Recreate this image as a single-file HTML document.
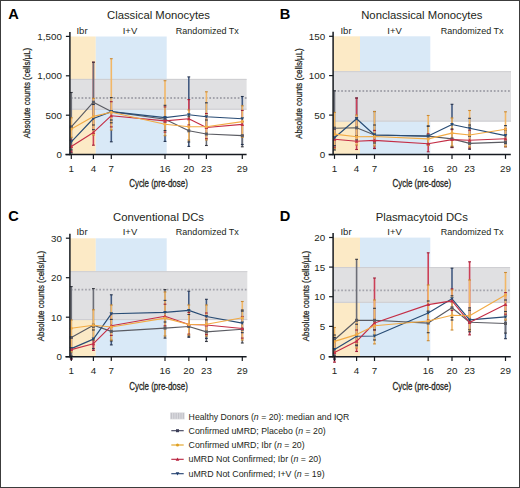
<!DOCTYPE html>
<html><head><meta charset="utf-8"><style>
html,body{margin:0;padding:0;width:520px;height:488px;overflow:hidden;background:#fff;font-family:"Liberation Sans", sans-serif;}
</style></head><body>
<svg width="520" height="488" viewBox="0 0 520 488" style="position:absolute;left:0;top:0;font-family:'Liberation Sans', sans-serif">
<rect x="0" y="0" width="520" height="488" fill="#fff"/>
<rect x="69.9" y="36.5" width="25.90" height="118.10" fill="#fceac6"/>
<rect x="95.8" y="36.5" width="70.90" height="118.10" fill="#d9e9f7"/>
<rect x="69.9" y="78.9" width="176.70" height="30.80" fill="#e0e0e2"/>
<line x1="69.9" y1="109.2" x2="246.6" y2="109.2" stroke="#cdcdd1" stroke-width="1"/>
<line x1="69.9" y1="79.4" x2="246.6" y2="79.4" stroke="#cdcdd1" stroke-width="1"/>
<line x1="70.9" y1="98.0" x2="246.6" y2="98.0" stroke="#a4a4ac" stroke-width="1.8" stroke-dasharray="1.7 1.85"/>
<line x1="111.30" y1="120.00" x2="111.30" y2="141.80" stroke="#435b82" stroke-width="1.6"/>
<line x1="165.00" y1="122.00" x2="165.00" y2="141.40" stroke="#435b82" stroke-width="1.6"/>
<line x1="188.80" y1="76.90" x2="188.80" y2="146.40" stroke="#435b82" stroke-width="1.6"/>
<line x1="242.30" y1="96.50" x2="242.30" y2="144.50" stroke="#435b82" stroke-width="1.6"/>
<line x1="71.30" y1="127.80" x2="71.30" y2="153.00" stroke="#435b82" stroke-width="1.6"/>
<line x1="93.40" y1="104.50" x2="93.40" y2="129.70" stroke="#435b82" stroke-width="1.6"/>
<line x1="206.40" y1="102.80" x2="206.40" y2="128.00" stroke="#435b82" stroke-width="1.6"/>
<line x1="71.30" y1="140.00" x2="71.30" y2="152.00" stroke="#cc4058" stroke-width="1.6"/>
<line x1="93.40" y1="62.20" x2="93.40" y2="145.20" stroke="#cc4058" stroke-width="1.6"/>
<line x1="188.80" y1="99.60" x2="188.80" y2="125.00" stroke="#cc4058" stroke-width="1.6"/>
<line x1="111.30" y1="101.70" x2="111.30" y2="126.90" stroke="#cc4058" stroke-width="1.6"/>
<line x1="165.00" y1="106.90" x2="165.00" y2="132.10" stroke="#cc4058" stroke-width="1.6"/>
<line x1="206.40" y1="113.50" x2="206.40" y2="138.70" stroke="#cc4058" stroke-width="1.6"/>
<line x1="242.30" y1="110.40" x2="242.30" y2="135.60" stroke="#cc4058" stroke-width="1.6"/>
<line x1="71.30" y1="92.50" x2="71.30" y2="150.00" stroke="#6c6e77" stroke-width="1.6"/>
<line x1="93.40" y1="62.20" x2="93.40" y2="125.00" stroke="#6c6e77" stroke-width="1.6"/>
<line x1="206.40" y1="120.00" x2="206.40" y2="145.50" stroke="#6c6e77" stroke-width="1.6"/>
<line x1="111.30" y1="97.60" x2="111.30" y2="122.80" stroke="#6c6e77" stroke-width="1.6"/>
<line x1="165.00" y1="105.30" x2="165.00" y2="130.50" stroke="#6c6e77" stroke-width="1.6"/>
<line x1="188.80" y1="116.80" x2="188.80" y2="142.00" stroke="#6c6e77" stroke-width="1.6"/>
<line x1="242.30" y1="121.60" x2="242.30" y2="146.80" stroke="#6c6e77" stroke-width="1.6"/>
<line x1="71.30" y1="117.80" x2="71.30" y2="137.30" stroke="#f2b767" stroke-width="1.6"/>
<line x1="93.40" y1="98.40" x2="93.40" y2="135.00" stroke="#f2b767" stroke-width="1.6"/>
<line x1="111.30" y1="58.70" x2="111.30" y2="130.00" stroke="#f2b767" stroke-width="1.6"/>
<line x1="165.00" y1="80.70" x2="165.00" y2="135.70" stroke="#f2b767" stroke-width="1.6"/>
<line x1="188.80" y1="110.00" x2="188.80" y2="140.00" stroke="#f2b767" stroke-width="1.6"/>
<line x1="206.40" y1="91.80" x2="206.40" y2="140.00" stroke="#f2b767" stroke-width="1.6"/>
<line x1="242.30" y1="105.80" x2="242.30" y2="137.30" stroke="#f2b767" stroke-width="1.6"/>
<line x1="109.90" y1="120.0" x2="112.70" y2="120.0" stroke="#24324c" stroke-width="1.1"/>
<line x1="109.90" y1="141.8" x2="112.70" y2="141.8" stroke="#24324c" stroke-width="1.1"/>
<line x1="163.60" y1="122.0" x2="166.40" y2="122.0" stroke="#24324c" stroke-width="1.1"/>
<line x1="163.60" y1="141.4" x2="166.40" y2="141.4" stroke="#24324c" stroke-width="1.1"/>
<line x1="187.40" y1="76.9" x2="190.20" y2="76.9" stroke="#24324c" stroke-width="1.1"/>
<line x1="187.40" y1="146.4" x2="190.20" y2="146.4" stroke="#24324c" stroke-width="1.1"/>
<line x1="240.90" y1="96.5" x2="243.70" y2="96.5" stroke="#24324c" stroke-width="1.1"/>
<line x1="240.90" y1="144.5" x2="243.70" y2="144.5" stroke="#24324c" stroke-width="1.1"/>
<line x1="69.90" y1="127.8" x2="72.70" y2="127.8" stroke="#24324c" stroke-width="1.1"/>
<line x1="69.90" y1="153.0" x2="72.70" y2="153.0" stroke="#24324c" stroke-width="1.1"/>
<line x1="92.00" y1="104.5" x2="94.80" y2="104.5" stroke="#24324c" stroke-width="1.1"/>
<line x1="92.00" y1="129.7" x2="94.80" y2="129.7" stroke="#24324c" stroke-width="1.1"/>
<line x1="205.00" y1="102.8" x2="207.80" y2="102.8" stroke="#24324c" stroke-width="1.1"/>
<line x1="205.00" y1="128.0" x2="207.80" y2="128.0" stroke="#24324c" stroke-width="1.1"/>
<line x1="69.90" y1="140.0" x2="72.70" y2="140.0" stroke="#9e2038" stroke-width="1.1"/>
<line x1="69.90" y1="152.0" x2="72.70" y2="152.0" stroke="#9e2038" stroke-width="1.1"/>
<line x1="92.00" y1="62.2" x2="94.80" y2="62.2" stroke="#9e2038" stroke-width="1.1"/>
<line x1="92.00" y1="145.2" x2="94.80" y2="145.2" stroke="#9e2038" stroke-width="1.1"/>
<line x1="187.40" y1="99.6" x2="190.20" y2="99.6" stroke="#9e2038" stroke-width="1.1"/>
<line x1="187.40" y1="125.0" x2="190.20" y2="125.0" stroke="#9e2038" stroke-width="1.1"/>
<line x1="109.90" y1="101.7" x2="112.70" y2="101.7" stroke="#9e2038" stroke-width="1.1"/>
<line x1="109.90" y1="126.9" x2="112.70" y2="126.9" stroke="#9e2038" stroke-width="1.1"/>
<line x1="163.60" y1="106.9" x2="166.40" y2="106.9" stroke="#9e2038" stroke-width="1.1"/>
<line x1="163.60" y1="132.1" x2="166.40" y2="132.1" stroke="#9e2038" stroke-width="1.1"/>
<line x1="205.00" y1="113.5" x2="207.80" y2="113.5" stroke="#9e2038" stroke-width="1.1"/>
<line x1="205.00" y1="138.7" x2="207.80" y2="138.7" stroke="#9e2038" stroke-width="1.1"/>
<line x1="240.90" y1="110.4" x2="243.70" y2="110.4" stroke="#9e2038" stroke-width="1.1"/>
<line x1="240.90" y1="135.6" x2="243.70" y2="135.6" stroke="#9e2038" stroke-width="1.1"/>
<line x1="69.90" y1="92.5" x2="72.70" y2="92.5" stroke="#34363e" stroke-width="1.1"/>
<line x1="69.90" y1="150.0" x2="72.70" y2="150.0" stroke="#34363e" stroke-width="1.1"/>
<line x1="92.00" y1="62.2" x2="94.80" y2="62.2" stroke="#34363e" stroke-width="1.1"/>
<line x1="92.00" y1="125.0" x2="94.80" y2="125.0" stroke="#34363e" stroke-width="1.1"/>
<line x1="205.00" y1="120.0" x2="207.80" y2="120.0" stroke="#34363e" stroke-width="1.1"/>
<line x1="205.00" y1="145.5" x2="207.80" y2="145.5" stroke="#34363e" stroke-width="1.1"/>
<line x1="109.90" y1="97.6" x2="112.70" y2="97.6" stroke="#34363e" stroke-width="1.1"/>
<line x1="109.90" y1="122.8" x2="112.70" y2="122.8" stroke="#34363e" stroke-width="1.1"/>
<line x1="163.60" y1="105.3" x2="166.40" y2="105.3" stroke="#34363e" stroke-width="1.1"/>
<line x1="163.60" y1="130.5" x2="166.40" y2="130.5" stroke="#34363e" stroke-width="1.1"/>
<line x1="187.40" y1="116.8" x2="190.20" y2="116.8" stroke="#34363e" stroke-width="1.1"/>
<line x1="187.40" y1="142.0" x2="190.20" y2="142.0" stroke="#34363e" stroke-width="1.1"/>
<line x1="240.90" y1="121.6" x2="243.70" y2="121.6" stroke="#34363e" stroke-width="1.1"/>
<line x1="240.90" y1="146.8" x2="243.70" y2="146.8" stroke="#34363e" stroke-width="1.1"/>
<line x1="69.90" y1="117.8" x2="72.70" y2="117.8" stroke="#c98a34" stroke-width="1.1"/>
<line x1="69.90" y1="137.3" x2="72.70" y2="137.3" stroke="#c98a34" stroke-width="1.1"/>
<line x1="92.00" y1="98.4" x2="94.80" y2="98.4" stroke="#c98a34" stroke-width="1.1"/>
<line x1="92.00" y1="135.0" x2="94.80" y2="135.0" stroke="#c98a34" stroke-width="1.1"/>
<line x1="109.90" y1="58.7" x2="112.70" y2="58.7" stroke="#c98a34" stroke-width="1.1"/>
<line x1="109.90" y1="130.0" x2="112.70" y2="130.0" stroke="#c98a34" stroke-width="1.1"/>
<line x1="163.60" y1="80.7" x2="166.40" y2="80.7" stroke="#c98a34" stroke-width="1.1"/>
<line x1="163.60" y1="135.7" x2="166.40" y2="135.7" stroke="#c98a34" stroke-width="1.1"/>
<line x1="187.40" y1="110.0" x2="190.20" y2="110.0" stroke="#c98a34" stroke-width="1.1"/>
<line x1="187.40" y1="140.0" x2="190.20" y2="140.0" stroke="#c98a34" stroke-width="1.1"/>
<line x1="205.00" y1="91.8" x2="207.80" y2="91.8" stroke="#c98a34" stroke-width="1.1"/>
<line x1="205.00" y1="140.0" x2="207.80" y2="140.0" stroke="#c98a34" stroke-width="1.1"/>
<line x1="240.90" y1="105.8" x2="243.70" y2="105.8" stroke="#c98a34" stroke-width="1.1"/>
<line x1="240.90" y1="137.3" x2="243.70" y2="137.3" stroke="#c98a34" stroke-width="1.1"/>
<polyline points="71.30,126.90 93.40,102.20 111.30,111.60 165.00,119.30 188.80,130.80 206.40,134.00 242.30,135.60" fill="none" stroke="#5a5b62" stroke-width="1.15" stroke-linejoin="round"/>
<rect x="69.80" y="125.40" width="3.00" height="3.00" fill="#5a5b62"/>
<rect x="91.90" y="100.70" width="3.00" height="3.00" fill="#5a5b62"/>
<rect x="109.80" y="110.10" width="3.00" height="3.00" fill="#5a5b62"/>
<rect x="163.50" y="117.80" width="3.00" height="3.00" fill="#5a5b62"/>
<rect x="187.30" y="129.30" width="3.00" height="3.00" fill="#5a5b62"/>
<rect x="204.90" y="132.50" width="3.00" height="3.00" fill="#5a5b62"/>
<rect x="240.80" y="134.10" width="3.00" height="3.00" fill="#5a5b62"/>
<polyline points="71.30,141.80 93.40,118.50 111.30,111.60 165.00,117.60 188.80,114.70 206.40,116.80 242.30,118.70" fill="none" stroke="#284c75" stroke-width="1.15" stroke-linejoin="round"/>
<path d="M71.30,143.60 L73.10,140.30 L69.50,140.30Z" fill="#284c75"/>
<path d="M93.40,120.30 L95.20,117.00 L91.60,117.00Z" fill="#284c75"/>
<path d="M111.30,113.40 L113.10,110.10 L109.50,110.10Z" fill="#284c75"/>
<path d="M165.00,119.40 L166.80,116.10 L163.20,116.10Z" fill="#284c75"/>
<path d="M188.80,116.50 L190.60,113.20 L187.00,113.20Z" fill="#284c75"/>
<path d="M206.40,118.60 L208.20,115.30 L204.60,115.30Z" fill="#284c75"/>
<path d="M242.30,120.50 L244.10,117.20 L240.50,117.20Z" fill="#284c75"/>
<polyline points="71.30,146.40 93.40,132.40 111.30,115.70 165.00,120.90 188.80,118.80 206.40,127.50 242.30,124.40" fill="none" stroke="#c42e46" stroke-width="1.15" stroke-linejoin="round"/>
<path d="M71.30,144.60 L73.10,147.90 L69.50,147.90Z" fill="#c42e46"/>
<path d="M93.40,130.60 L95.20,133.90 L91.60,133.90Z" fill="#c42e46"/>
<path d="M111.30,113.90 L113.10,117.20 L109.50,117.20Z" fill="#c42e46"/>
<path d="M165.00,119.10 L166.80,122.40 L163.20,122.40Z" fill="#c42e46"/>
<path d="M188.80,117.00 L190.60,120.30 L187.00,120.30Z" fill="#c42e46"/>
<path d="M206.40,125.70 L208.20,129.00 L204.60,129.00Z" fill="#c42e46"/>
<path d="M242.30,122.60 L244.10,125.90 L240.50,125.90Z" fill="#c42e46"/>
<polyline points="71.30,129.00 93.40,116.40 111.30,112.30 165.00,124.20 188.80,126.70 206.40,126.70 242.30,121.60" fill="none" stroke="#f2ab45" stroke-width="1.15" stroke-linejoin="round"/>
<circle cx="71.30" cy="129.00" r="1.50" fill="#f2ab45"/>
<circle cx="93.40" cy="116.40" r="1.50" fill="#f2ab45"/>
<circle cx="111.30" cy="112.30" r="1.50" fill="#f2ab45"/>
<circle cx="165.00" cy="124.20" r="1.50" fill="#f2ab45"/>
<circle cx="188.80" cy="126.70" r="1.50" fill="#f2ab45"/>
<circle cx="206.40" cy="126.70" r="1.50" fill="#f2ab45"/>
<circle cx="242.30" cy="121.60" r="1.50" fill="#f2ab45"/>
<line x1="69.9" y1="32.0" x2="69.9" y2="155.29999999999998" stroke="#161a20" stroke-width="1.5"/>
<line x1="65.4" y1="154.6" x2="246.6" y2="154.6" stroke="#161a20" stroke-width="1.5"/>
<line x1="65.9" y1="36.4" x2="69.9" y2="36.4" stroke="#161a20" stroke-width="1.2"/>
<text x="61.900000000000006" y="39.8" font-size="9.8" text-anchor="end" font-weight="normal" fill="#231f20">1,500</text>
<line x1="65.9" y1="75.8" x2="69.9" y2="75.8" stroke="#161a20" stroke-width="1.2"/>
<text x="61.900000000000006" y="79.2" font-size="9.8" text-anchor="end" font-weight="normal" fill="#231f20">1,000</text>
<line x1="65.9" y1="115.2" x2="69.9" y2="115.2" stroke="#161a20" stroke-width="1.2"/>
<text x="61.900000000000006" y="118.60000000000001" font-size="9.8" text-anchor="end" font-weight="normal" fill="#231f20">500</text>
<line x1="65.9" y1="154.6" x2="69.9" y2="154.6" stroke="#161a20" stroke-width="1.2"/>
<text x="61.900000000000006" y="158.0" font-size="9.8" text-anchor="end" font-weight="normal" fill="#231f20">0</text>
<line x1="71.30" y1="154.6" x2="71.30" y2="158.90" stroke="#161a20" stroke-width="1.2"/>
<text x="71.3" y="172.1" font-size="9.8" text-anchor="middle" font-weight="normal" fill="#231f20">1</text>
<line x1="93.40" y1="154.6" x2="93.40" y2="158.90" stroke="#161a20" stroke-width="1.2"/>
<text x="93.4" y="172.1" font-size="9.8" text-anchor="middle" font-weight="normal" fill="#231f20">4</text>
<line x1="111.30" y1="154.6" x2="111.30" y2="158.90" stroke="#161a20" stroke-width="1.2"/>
<text x="111.3" y="172.1" font-size="9.8" text-anchor="middle" font-weight="normal" fill="#231f20">7</text>
<line x1="165.00" y1="154.6" x2="165.00" y2="158.90" stroke="#161a20" stroke-width="1.2"/>
<text x="165.0" y="172.1" font-size="9.8" text-anchor="middle" font-weight="normal" fill="#231f20">16</text>
<line x1="188.80" y1="154.6" x2="188.80" y2="158.90" stroke="#161a20" stroke-width="1.2"/>
<text x="188.8" y="172.1" font-size="9.8" text-anchor="middle" font-weight="normal" fill="#231f20">20</text>
<line x1="206.40" y1="154.6" x2="206.40" y2="158.90" stroke="#161a20" stroke-width="1.2"/>
<text x="206.4" y="172.1" font-size="9.8" text-anchor="middle" font-weight="normal" fill="#231f20">23</text>
<line x1="242.30" y1="154.6" x2="242.30" y2="158.90" stroke="#161a20" stroke-width="1.2"/>
<text x="242.3" y="172.1" font-size="9.8" text-anchor="middle" font-weight="normal" fill="#231f20">29</text>
<text x="8.2" y="18.8" font-size="14.6" text-anchor="start" font-weight="bold" fill="#000">A</text>
<text x="158.5" y="19.3" font-size="11.3" text-anchor="middle" font-weight="normal" fill="#231f20">Classical Monocytes</text>
<text x="82" y="33.6" font-size="9.5" text-anchor="middle" font-weight="normal" fill="#231f20">Ibr</text>
<text x="130" y="33.6" font-size="9.5" text-anchor="middle" font-weight="normal" fill="#231f20">I+V</text>
<text x="207.3" y="33.6" font-size="9.0" text-anchor="middle" font-weight="normal" fill="#231f20">Randomized Tx</text>
<text x="158.5" y="187.4" font-size="10.6" text-anchor="middle" font-weight="normal" fill="#231f20" textLength="58.6" lengthAdjust="spacingAndGlyphs" stroke="#231f20" stroke-width="0.3">Cycle (pre-dose)</text>
<text transform="translate(30.2,93) rotate(-90)" x="0" y="0" font-size="9.6" text-anchor="middle" fill="#231f20" textLength="90.5" lengthAdjust="spacingAndGlyphs" stroke="#231f20" stroke-width="0.25">Absolute counts (cells/µL)</text>
<rect x="333.1" y="36.3" width="26.90" height="118.30" fill="#fceac6"/>
<rect x="360.0" y="36.3" width="70.30" height="118.30" fill="#d9e9f7"/>
<rect x="333.1" y="71.2" width="177.90" height="50.40" fill="#e0e0e2"/>
<line x1="333.1" y1="121.1" x2="511.0" y2="121.1" stroke="#cdcdd1" stroke-width="1"/>
<line x1="333.1" y1="71.7" x2="511.0" y2="71.7" stroke="#cdcdd1" stroke-width="1"/>
<line x1="334.1" y1="91.0" x2="511.0" y2="91.0" stroke="#a4a4ac" stroke-width="1.8" stroke-dasharray="1.7 1.85"/>
<line x1="356.60" y1="98.00" x2="356.60" y2="140.00" stroke="#435b82" stroke-width="1.6"/>
<line x1="374.50" y1="111.50" x2="374.50" y2="148.60" stroke="#435b82" stroke-width="1.6"/>
<line x1="452.00" y1="104.30" x2="452.00" y2="147.30" stroke="#435b82" stroke-width="1.6"/>
<line x1="334.50" y1="127.70" x2="334.50" y2="145.70" stroke="#435b82" stroke-width="1.6"/>
<line x1="428.20" y1="126.10" x2="428.20" y2="144.10" stroke="#435b82" stroke-width="1.6"/>
<line x1="469.60" y1="118.30" x2="469.60" y2="136.30" stroke="#435b82" stroke-width="1.6"/>
<line x1="505.50" y1="125.60" x2="505.50" y2="143.60" stroke="#435b82" stroke-width="1.6"/>
<line x1="356.60" y1="98.00" x2="356.60" y2="149.50" stroke="#cc4058" stroke-width="1.6"/>
<line x1="334.50" y1="129.20" x2="334.50" y2="147.20" stroke="#cc4058" stroke-width="1.6"/>
<line x1="374.50" y1="130.40" x2="374.50" y2="148.40" stroke="#cc4058" stroke-width="1.6"/>
<line x1="428.20" y1="133.80" x2="428.20" y2="151.80" stroke="#cc4058" stroke-width="1.6"/>
<line x1="452.00" y1="129.60" x2="452.00" y2="147.60" stroke="#cc4058" stroke-width="1.6"/>
<line x1="469.60" y1="130.20" x2="469.60" y2="148.20" stroke="#cc4058" stroke-width="1.6"/>
<line x1="505.50" y1="128.80" x2="505.50" y2="146.80" stroke="#cc4058" stroke-width="1.6"/>
<line x1="334.50" y1="90.80" x2="334.50" y2="150.00" stroke="#6c6e77" stroke-width="1.6"/>
<line x1="469.60" y1="125.00" x2="469.60" y2="149.30" stroke="#6c6e77" stroke-width="1.6"/>
<line x1="505.50" y1="130.00" x2="505.50" y2="146.60" stroke="#6c6e77" stroke-width="1.6"/>
<line x1="356.60" y1="117.80" x2="356.60" y2="135.80" stroke="#6c6e77" stroke-width="1.6"/>
<line x1="374.50" y1="125.00" x2="374.50" y2="143.00" stroke="#6c6e77" stroke-width="1.6"/>
<line x1="428.20" y1="126.10" x2="428.20" y2="144.10" stroke="#6c6e77" stroke-width="1.6"/>
<line x1="452.00" y1="128.90" x2="452.00" y2="146.90" stroke="#6c6e77" stroke-width="1.6"/>
<line x1="334.50" y1="112.40" x2="334.50" y2="148.60" stroke="#f2b767" stroke-width="1.6"/>
<line x1="356.60" y1="115.00" x2="356.60" y2="145.00" stroke="#f2b767" stroke-width="1.6"/>
<line x1="374.50" y1="111.50" x2="374.50" y2="146.00" stroke="#f2b767" stroke-width="1.6"/>
<line x1="428.20" y1="115.50" x2="428.20" y2="145.40" stroke="#f2b767" stroke-width="1.6"/>
<line x1="452.00" y1="118.00" x2="452.00" y2="146.00" stroke="#f2b767" stroke-width="1.6"/>
<line x1="469.60" y1="110.50" x2="469.60" y2="147.00" stroke="#f2b767" stroke-width="1.6"/>
<line x1="505.50" y1="111.80" x2="505.50" y2="146.60" stroke="#f2b767" stroke-width="1.6"/>
<line x1="355.20" y1="98.0" x2="358.00" y2="98.0" stroke="#24324c" stroke-width="1.1"/>
<line x1="355.20" y1="140.0" x2="358.00" y2="140.0" stroke="#24324c" stroke-width="1.1"/>
<line x1="373.10" y1="111.5" x2="375.90" y2="111.5" stroke="#24324c" stroke-width="1.1"/>
<line x1="373.10" y1="148.6" x2="375.90" y2="148.6" stroke="#24324c" stroke-width="1.1"/>
<line x1="450.60" y1="104.3" x2="453.40" y2="104.3" stroke="#24324c" stroke-width="1.1"/>
<line x1="450.60" y1="147.3" x2="453.40" y2="147.3" stroke="#24324c" stroke-width="1.1"/>
<line x1="333.10" y1="127.7" x2="335.90" y2="127.7" stroke="#24324c" stroke-width="1.1"/>
<line x1="333.10" y1="145.7" x2="335.90" y2="145.7" stroke="#24324c" stroke-width="1.1"/>
<line x1="426.80" y1="126.1" x2="429.60" y2="126.1" stroke="#24324c" stroke-width="1.1"/>
<line x1="426.80" y1="144.1" x2="429.60" y2="144.1" stroke="#24324c" stroke-width="1.1"/>
<line x1="468.20" y1="118.3" x2="471.00" y2="118.3" stroke="#24324c" stroke-width="1.1"/>
<line x1="468.20" y1="136.3" x2="471.00" y2="136.3" stroke="#24324c" stroke-width="1.1"/>
<line x1="504.10" y1="125.6" x2="506.90" y2="125.6" stroke="#24324c" stroke-width="1.1"/>
<line x1="504.10" y1="143.6" x2="506.90" y2="143.6" stroke="#24324c" stroke-width="1.1"/>
<line x1="355.20" y1="98.0" x2="358.00" y2="98.0" stroke="#9e2038" stroke-width="1.1"/>
<line x1="355.20" y1="149.5" x2="358.00" y2="149.5" stroke="#9e2038" stroke-width="1.1"/>
<line x1="333.10" y1="129.2" x2="335.90" y2="129.2" stroke="#9e2038" stroke-width="1.1"/>
<line x1="333.10" y1="147.2" x2="335.90" y2="147.2" stroke="#9e2038" stroke-width="1.1"/>
<line x1="373.10" y1="130.4" x2="375.90" y2="130.4" stroke="#9e2038" stroke-width="1.1"/>
<line x1="373.10" y1="148.4" x2="375.90" y2="148.4" stroke="#9e2038" stroke-width="1.1"/>
<line x1="426.80" y1="133.8" x2="429.60" y2="133.8" stroke="#9e2038" stroke-width="1.1"/>
<line x1="426.80" y1="151.8" x2="429.60" y2="151.8" stroke="#9e2038" stroke-width="1.1"/>
<line x1="450.60" y1="129.6" x2="453.40" y2="129.6" stroke="#9e2038" stroke-width="1.1"/>
<line x1="450.60" y1="147.6" x2="453.40" y2="147.6" stroke="#9e2038" stroke-width="1.1"/>
<line x1="468.20" y1="130.2" x2="471.00" y2="130.2" stroke="#9e2038" stroke-width="1.1"/>
<line x1="468.20" y1="148.2" x2="471.00" y2="148.2" stroke="#9e2038" stroke-width="1.1"/>
<line x1="504.10" y1="128.8" x2="506.90" y2="128.8" stroke="#9e2038" stroke-width="1.1"/>
<line x1="504.10" y1="146.8" x2="506.90" y2="146.8" stroke="#9e2038" stroke-width="1.1"/>
<line x1="333.10" y1="90.8" x2="335.90" y2="90.8" stroke="#34363e" stroke-width="1.1"/>
<line x1="333.10" y1="150.0" x2="335.90" y2="150.0" stroke="#34363e" stroke-width="1.1"/>
<line x1="468.20" y1="125.0" x2="471.00" y2="125.0" stroke="#34363e" stroke-width="1.1"/>
<line x1="468.20" y1="149.3" x2="471.00" y2="149.3" stroke="#34363e" stroke-width="1.1"/>
<line x1="504.10" y1="130.0" x2="506.90" y2="130.0" stroke="#34363e" stroke-width="1.1"/>
<line x1="504.10" y1="146.6" x2="506.90" y2="146.6" stroke="#34363e" stroke-width="1.1"/>
<line x1="355.20" y1="117.8" x2="358.00" y2="117.8" stroke="#34363e" stroke-width="1.1"/>
<line x1="355.20" y1="135.8" x2="358.00" y2="135.8" stroke="#34363e" stroke-width="1.1"/>
<line x1="373.10" y1="125.0" x2="375.90" y2="125.0" stroke="#34363e" stroke-width="1.1"/>
<line x1="373.10" y1="143.0" x2="375.90" y2="143.0" stroke="#34363e" stroke-width="1.1"/>
<line x1="426.80" y1="126.1" x2="429.60" y2="126.1" stroke="#34363e" stroke-width="1.1"/>
<line x1="426.80" y1="144.1" x2="429.60" y2="144.1" stroke="#34363e" stroke-width="1.1"/>
<line x1="450.60" y1="128.9" x2="453.40" y2="128.9" stroke="#34363e" stroke-width="1.1"/>
<line x1="450.60" y1="146.9" x2="453.40" y2="146.9" stroke="#34363e" stroke-width="1.1"/>
<line x1="333.10" y1="112.4" x2="335.90" y2="112.4" stroke="#c98a34" stroke-width="1.1"/>
<line x1="333.10" y1="148.6" x2="335.90" y2="148.6" stroke="#c98a34" stroke-width="1.1"/>
<line x1="355.20" y1="115.0" x2="358.00" y2="115.0" stroke="#c98a34" stroke-width="1.1"/>
<line x1="355.20" y1="145.0" x2="358.00" y2="145.0" stroke="#c98a34" stroke-width="1.1"/>
<line x1="373.10" y1="111.5" x2="375.90" y2="111.5" stroke="#c98a34" stroke-width="1.1"/>
<line x1="373.10" y1="146.0" x2="375.90" y2="146.0" stroke="#c98a34" stroke-width="1.1"/>
<line x1="426.80" y1="115.5" x2="429.60" y2="115.5" stroke="#c98a34" stroke-width="1.1"/>
<line x1="426.80" y1="145.4" x2="429.60" y2="145.4" stroke="#c98a34" stroke-width="1.1"/>
<line x1="450.60" y1="118.0" x2="453.40" y2="118.0" stroke="#c98a34" stroke-width="1.1"/>
<line x1="450.60" y1="146.0" x2="453.40" y2="146.0" stroke="#c98a34" stroke-width="1.1"/>
<line x1="468.20" y1="110.5" x2="471.00" y2="110.5" stroke="#c98a34" stroke-width="1.1"/>
<line x1="468.20" y1="147.0" x2="471.00" y2="147.0" stroke="#c98a34" stroke-width="1.1"/>
<line x1="504.10" y1="111.8" x2="506.90" y2="111.8" stroke="#c98a34" stroke-width="1.1"/>
<line x1="504.10" y1="146.6" x2="506.90" y2="146.6" stroke="#c98a34" stroke-width="1.1"/>
<polyline points="334.50,128.20 356.60,127.80 374.50,135.00 428.20,136.10 452.00,138.90 469.60,143.40 505.50,142.10" fill="none" stroke="#5a5b62" stroke-width="1.15" stroke-linejoin="round"/>
<rect x="333.00" y="126.70" width="3.00" height="3.00" fill="#5a5b62"/>
<rect x="355.10" y="126.30" width="3.00" height="3.00" fill="#5a5b62"/>
<rect x="373.00" y="133.50" width="3.00" height="3.00" fill="#5a5b62"/>
<rect x="426.70" y="134.60" width="3.00" height="3.00" fill="#5a5b62"/>
<rect x="450.50" y="137.40" width="3.00" height="3.00" fill="#5a5b62"/>
<rect x="468.10" y="141.90" width="3.00" height="3.00" fill="#5a5b62"/>
<rect x="504.00" y="140.60" width="3.00" height="3.00" fill="#5a5b62"/>
<polyline points="334.50,139.20 356.60,141.30 374.50,140.40 428.20,143.80 452.00,139.60 469.60,140.20 505.50,138.80" fill="none" stroke="#c42e46" stroke-width="1.15" stroke-linejoin="round"/>
<path d="M334.50,137.40 L336.30,140.70 L332.70,140.70Z" fill="#c42e46"/>
<path d="M356.60,139.50 L358.40,142.80 L354.80,142.80Z" fill="#c42e46"/>
<path d="M374.50,138.60 L376.30,141.90 L372.70,141.90Z" fill="#c42e46"/>
<path d="M428.20,142.00 L430.00,145.30 L426.40,145.30Z" fill="#c42e46"/>
<path d="M452.00,137.80 L453.80,141.10 L450.20,141.10Z" fill="#c42e46"/>
<path d="M469.60,138.40 L471.40,141.70 L467.80,141.70Z" fill="#c42e46"/>
<path d="M505.50,137.00 L507.30,140.30 L503.70,140.30Z" fill="#c42e46"/>
<polyline points="334.50,137.70 356.60,118.80 374.50,135.00 428.20,136.10 452.00,124.50 469.60,128.30 505.50,135.60" fill="none" stroke="#284c75" stroke-width="1.15" stroke-linejoin="round"/>
<path d="M334.50,139.50 L336.30,136.20 L332.70,136.20Z" fill="#284c75"/>
<path d="M356.60,120.60 L358.40,117.30 L354.80,117.30Z" fill="#284c75"/>
<path d="M374.50,136.80 L376.30,133.50 L372.70,133.50Z" fill="#284c75"/>
<path d="M428.20,137.90 L430.00,134.60 L426.40,134.60Z" fill="#284c75"/>
<path d="M452.00,126.30 L453.80,123.00 L450.20,123.00Z" fill="#284c75"/>
<path d="M469.60,130.10 L471.40,126.80 L467.80,126.80Z" fill="#284c75"/>
<path d="M505.50,137.40 L507.30,134.10 L503.70,134.10Z" fill="#284c75"/>
<polyline points="334.50,134.10 356.60,136.80 374.50,136.50 428.20,138.90 452.00,133.10 469.60,135.00 505.50,129.20" fill="none" stroke="#f2ab45" stroke-width="1.15" stroke-linejoin="round"/>
<circle cx="334.50" cy="134.10" r="1.50" fill="#f2ab45"/>
<circle cx="356.60" cy="136.80" r="1.50" fill="#f2ab45"/>
<circle cx="374.50" cy="136.50" r="1.50" fill="#f2ab45"/>
<circle cx="428.20" cy="138.90" r="1.50" fill="#f2ab45"/>
<circle cx="452.00" cy="133.10" r="1.50" fill="#f2ab45"/>
<circle cx="469.60" cy="135.00" r="1.50" fill="#f2ab45"/>
<circle cx="505.50" cy="129.20" r="1.50" fill="#f2ab45"/>
<line x1="333.1" y1="31.799999999999997" x2="333.1" y2="155.29999999999998" stroke="#161a20" stroke-width="1.5"/>
<line x1="328.6" y1="154.6" x2="510.8" y2="154.6" stroke="#161a20" stroke-width="1.5"/>
<line x1="329.1" y1="36.3" x2="333.1" y2="36.3" stroke="#161a20" stroke-width="1.2"/>
<text x="325.1" y="39.699999999999996" font-size="9.8" text-anchor="end" font-weight="normal" fill="#231f20">150</text>
<line x1="329.1" y1="75.6" x2="333.1" y2="75.6" stroke="#161a20" stroke-width="1.2"/>
<text x="325.1" y="79.0" font-size="9.8" text-anchor="end" font-weight="normal" fill="#231f20">100</text>
<line x1="329.1" y1="115.1" x2="333.1" y2="115.1" stroke="#161a20" stroke-width="1.2"/>
<text x="325.1" y="118.5" font-size="9.8" text-anchor="end" font-weight="normal" fill="#231f20">50</text>
<line x1="329.1" y1="154.6" x2="333.1" y2="154.6" stroke="#161a20" stroke-width="1.2"/>
<text x="325.1" y="158.0" font-size="9.8" text-anchor="end" font-weight="normal" fill="#231f20">0</text>
<line x1="334.50" y1="154.6" x2="334.50" y2="158.90" stroke="#161a20" stroke-width="1.2"/>
<text x="334.5" y="172.1" font-size="9.8" text-anchor="middle" font-weight="normal" fill="#231f20">1</text>
<line x1="356.60" y1="154.6" x2="356.60" y2="158.90" stroke="#161a20" stroke-width="1.2"/>
<text x="356.6" y="172.1" font-size="9.8" text-anchor="middle" font-weight="normal" fill="#231f20">4</text>
<line x1="374.50" y1="154.6" x2="374.50" y2="158.90" stroke="#161a20" stroke-width="1.2"/>
<text x="374.5" y="172.1" font-size="9.8" text-anchor="middle" font-weight="normal" fill="#231f20">7</text>
<line x1="428.20" y1="154.6" x2="428.20" y2="158.90" stroke="#161a20" stroke-width="1.2"/>
<text x="428.2" y="172.1" font-size="9.8" text-anchor="middle" font-weight="normal" fill="#231f20">16</text>
<line x1="452.00" y1="154.6" x2="452.00" y2="158.90" stroke="#161a20" stroke-width="1.2"/>
<text x="452.0" y="172.1" font-size="9.8" text-anchor="middle" font-weight="normal" fill="#231f20">20</text>
<line x1="469.60" y1="154.6" x2="469.60" y2="158.90" stroke="#161a20" stroke-width="1.2"/>
<text x="469.6" y="172.1" font-size="9.8" text-anchor="middle" font-weight="normal" fill="#231f20">23</text>
<line x1="505.50" y1="154.6" x2="505.50" y2="158.90" stroke="#161a20" stroke-width="1.2"/>
<text x="505.5" y="172.1" font-size="9.8" text-anchor="middle" font-weight="normal" fill="#231f20">29</text>
<text x="279.8" y="18.8" font-size="14.6" text-anchor="start" font-weight="bold" fill="#000">B</text>
<text x="421.8" y="19.3" font-size="11.3" text-anchor="middle" font-weight="normal" fill="#231f20">Nonclassical Monocytes</text>
<text x="346" y="33.6" font-size="9.5" text-anchor="middle" font-weight="normal" fill="#231f20">Ibr</text>
<text x="394.6" y="33.6" font-size="9.5" text-anchor="middle" font-weight="normal" fill="#231f20">I+V</text>
<text x="472.2" y="33.6" font-size="9.0" text-anchor="middle" font-weight="normal" fill="#231f20">Randomized Tx</text>
<text x="421.8" y="187.4" font-size="10.6" text-anchor="middle" font-weight="normal" fill="#231f20" textLength="58.6" lengthAdjust="spacingAndGlyphs" stroke="#231f20" stroke-width="0.3">Cycle (pre-dose)</text>
<text transform="translate(302.3,93.6) rotate(-90)" x="0" y="0" font-size="9.6" text-anchor="middle" fill="#231f20" textLength="90.5" lengthAdjust="spacingAndGlyphs" stroke="#231f20" stroke-width="0.25">Absolute counts (cells/µL)</text>
<rect x="69.9" y="238.3" width="25.90" height="118.40" fill="#fceac6"/>
<rect x="95.8" y="238.3" width="70.90" height="118.40" fill="#d9e9f7"/>
<rect x="69.9" y="271.2" width="177.40" height="48.90" fill="#e0e0e2"/>
<line x1="69.9" y1="319.6" x2="247.3" y2="319.6" stroke="#cdcdd1" stroke-width="1"/>
<line x1="69.9" y1="271.7" x2="247.3" y2="271.7" stroke="#cdcdd1" stroke-width="1"/>
<line x1="70.9" y1="289.6" x2="247.3" y2="289.6" stroke="#a4a4ac" stroke-width="1.8" stroke-dasharray="1.7 1.85"/>
<line x1="111.30" y1="294.80" x2="111.30" y2="344.90" stroke="#435b82" stroke-width="1.6"/>
<line x1="188.80" y1="291.20" x2="188.80" y2="337.30" stroke="#435b82" stroke-width="1.6"/>
<line x1="206.40" y1="299.30" x2="206.40" y2="338.40" stroke="#435b82" stroke-width="1.6"/>
<line x1="71.30" y1="336.60" x2="71.30" y2="358.20" stroke="#435b82" stroke-width="1.6"/>
<line x1="93.40" y1="327.10" x2="93.40" y2="348.70" stroke="#435b82" stroke-width="1.6"/>
<line x1="165.00" y1="300.40" x2="165.00" y2="322.00" stroke="#435b82" stroke-width="1.6"/>
<line x1="242.30" y1="311.10" x2="242.30" y2="332.70" stroke="#435b82" stroke-width="1.6"/>
<line x1="93.40" y1="340.00" x2="93.40" y2="350.40" stroke="#cc4058" stroke-width="1.6"/>
<line x1="71.30" y1="337.60" x2="71.30" y2="359.20" stroke="#cc4058" stroke-width="1.6"/>
<line x1="111.30" y1="313.80" x2="111.30" y2="335.40" stroke="#cc4058" stroke-width="1.6"/>
<line x1="165.00" y1="304.20" x2="165.00" y2="325.80" stroke="#cc4058" stroke-width="1.6"/>
<line x1="188.80" y1="312.50" x2="188.80" y2="334.10" stroke="#cc4058" stroke-width="1.6"/>
<line x1="206.40" y1="313.00" x2="206.40" y2="334.60" stroke="#cc4058" stroke-width="1.6"/>
<line x1="242.30" y1="316.50" x2="242.30" y2="338.10" stroke="#cc4058" stroke-width="1.6"/>
<line x1="71.30" y1="286.60" x2="71.30" y2="356.00" stroke="#6c6e77" stroke-width="1.6"/>
<line x1="93.40" y1="288.60" x2="93.40" y2="330.00" stroke="#6c6e77" stroke-width="1.6"/>
<line x1="165.00" y1="289.60" x2="165.00" y2="338.10" stroke="#6c6e77" stroke-width="1.6"/>
<line x1="242.30" y1="310.00" x2="242.30" y2="343.00" stroke="#6c6e77" stroke-width="1.6"/>
<line x1="111.30" y1="319.40" x2="111.30" y2="341.00" stroke="#6c6e77" stroke-width="1.6"/>
<line x1="188.80" y1="314.50" x2="188.80" y2="336.10" stroke="#6c6e77" stroke-width="1.6"/>
<line x1="206.40" y1="319.90" x2="206.40" y2="341.50" stroke="#6c6e77" stroke-width="1.6"/>
<line x1="71.30" y1="320.00" x2="71.30" y2="352.00" stroke="#f2b767" stroke-width="1.6"/>
<line x1="93.40" y1="309.80" x2="93.40" y2="340.00" stroke="#f2b767" stroke-width="1.6"/>
<line x1="111.30" y1="305.00" x2="111.30" y2="340.00" stroke="#f2b767" stroke-width="1.6"/>
<line x1="165.00" y1="292.00" x2="165.00" y2="336.00" stroke="#f2b767" stroke-width="1.6"/>
<line x1="188.80" y1="305.00" x2="188.80" y2="335.00" stroke="#f2b767" stroke-width="1.6"/>
<line x1="206.40" y1="305.00" x2="206.40" y2="336.00" stroke="#f2b767" stroke-width="1.6"/>
<line x1="242.30" y1="301.50" x2="242.30" y2="340.00" stroke="#f2b767" stroke-width="1.6"/>
<line x1="109.90" y1="294.8" x2="112.70" y2="294.8" stroke="#24324c" stroke-width="1.1"/>
<line x1="109.90" y1="344.9" x2="112.70" y2="344.9" stroke="#24324c" stroke-width="1.1"/>
<line x1="187.40" y1="291.2" x2="190.20" y2="291.2" stroke="#24324c" stroke-width="1.1"/>
<line x1="187.40" y1="337.3" x2="190.20" y2="337.3" stroke="#24324c" stroke-width="1.1"/>
<line x1="205.00" y1="299.3" x2="207.80" y2="299.3" stroke="#24324c" stroke-width="1.1"/>
<line x1="205.00" y1="338.4" x2="207.80" y2="338.4" stroke="#24324c" stroke-width="1.1"/>
<line x1="69.90" y1="336.6" x2="72.70" y2="336.6" stroke="#24324c" stroke-width="1.1"/>
<line x1="69.90" y1="358.2" x2="72.70" y2="358.2" stroke="#24324c" stroke-width="1.1"/>
<line x1="92.00" y1="327.1" x2="94.80" y2="327.1" stroke="#24324c" stroke-width="1.1"/>
<line x1="92.00" y1="348.7" x2="94.80" y2="348.7" stroke="#24324c" stroke-width="1.1"/>
<line x1="163.60" y1="300.4" x2="166.40" y2="300.4" stroke="#24324c" stroke-width="1.1"/>
<line x1="163.60" y1="322.0" x2="166.40" y2="322.0" stroke="#24324c" stroke-width="1.1"/>
<line x1="240.90" y1="311.1" x2="243.70" y2="311.1" stroke="#24324c" stroke-width="1.1"/>
<line x1="240.90" y1="332.7" x2="243.70" y2="332.7" stroke="#24324c" stroke-width="1.1"/>
<line x1="92.00" y1="340.0" x2="94.80" y2="340.0" stroke="#9e2038" stroke-width="1.1"/>
<line x1="92.00" y1="350.4" x2="94.80" y2="350.4" stroke="#9e2038" stroke-width="1.1"/>
<line x1="69.90" y1="337.6" x2="72.70" y2="337.6" stroke="#9e2038" stroke-width="1.1"/>
<line x1="69.90" y1="359.2" x2="72.70" y2="359.2" stroke="#9e2038" stroke-width="1.1"/>
<line x1="109.90" y1="313.8" x2="112.70" y2="313.8" stroke="#9e2038" stroke-width="1.1"/>
<line x1="109.90" y1="335.4" x2="112.70" y2="335.4" stroke="#9e2038" stroke-width="1.1"/>
<line x1="163.60" y1="304.2" x2="166.40" y2="304.2" stroke="#9e2038" stroke-width="1.1"/>
<line x1="163.60" y1="325.8" x2="166.40" y2="325.8" stroke="#9e2038" stroke-width="1.1"/>
<line x1="187.40" y1="312.5" x2="190.20" y2="312.5" stroke="#9e2038" stroke-width="1.1"/>
<line x1="187.40" y1="334.1" x2="190.20" y2="334.1" stroke="#9e2038" stroke-width="1.1"/>
<line x1="205.00" y1="313.0" x2="207.80" y2="313.0" stroke="#9e2038" stroke-width="1.1"/>
<line x1="205.00" y1="334.6" x2="207.80" y2="334.6" stroke="#9e2038" stroke-width="1.1"/>
<line x1="240.90" y1="316.5" x2="243.70" y2="316.5" stroke="#9e2038" stroke-width="1.1"/>
<line x1="240.90" y1="338.1" x2="243.70" y2="338.1" stroke="#9e2038" stroke-width="1.1"/>
<line x1="69.90" y1="286.6" x2="72.70" y2="286.6" stroke="#34363e" stroke-width="1.1"/>
<line x1="69.90" y1="356.0" x2="72.70" y2="356.0" stroke="#34363e" stroke-width="1.1"/>
<line x1="92.00" y1="288.6" x2="94.80" y2="288.6" stroke="#34363e" stroke-width="1.1"/>
<line x1="92.00" y1="330.0" x2="94.80" y2="330.0" stroke="#34363e" stroke-width="1.1"/>
<line x1="163.60" y1="289.6" x2="166.40" y2="289.6" stroke="#34363e" stroke-width="1.1"/>
<line x1="163.60" y1="338.1" x2="166.40" y2="338.1" stroke="#34363e" stroke-width="1.1"/>
<line x1="240.90" y1="310.0" x2="243.70" y2="310.0" stroke="#34363e" stroke-width="1.1"/>
<line x1="240.90" y1="343.0" x2="243.70" y2="343.0" stroke="#34363e" stroke-width="1.1"/>
<line x1="109.90" y1="319.4" x2="112.70" y2="319.4" stroke="#34363e" stroke-width="1.1"/>
<line x1="109.90" y1="341.0" x2="112.70" y2="341.0" stroke="#34363e" stroke-width="1.1"/>
<line x1="187.40" y1="314.5" x2="190.20" y2="314.5" stroke="#34363e" stroke-width="1.1"/>
<line x1="187.40" y1="336.1" x2="190.20" y2="336.1" stroke="#34363e" stroke-width="1.1"/>
<line x1="205.00" y1="319.9" x2="207.80" y2="319.9" stroke="#34363e" stroke-width="1.1"/>
<line x1="205.00" y1="341.5" x2="207.80" y2="341.5" stroke="#34363e" stroke-width="1.1"/>
<line x1="69.90" y1="320.0" x2="72.70" y2="320.0" stroke="#c98a34" stroke-width="1.1"/>
<line x1="69.90" y1="352.0" x2="72.70" y2="352.0" stroke="#c98a34" stroke-width="1.1"/>
<line x1="92.00" y1="309.8" x2="94.80" y2="309.8" stroke="#c98a34" stroke-width="1.1"/>
<line x1="92.00" y1="340.0" x2="94.80" y2="340.0" stroke="#c98a34" stroke-width="1.1"/>
<line x1="109.90" y1="305.0" x2="112.70" y2="305.0" stroke="#c98a34" stroke-width="1.1"/>
<line x1="109.90" y1="340.0" x2="112.70" y2="340.0" stroke="#c98a34" stroke-width="1.1"/>
<line x1="163.60" y1="292.0" x2="166.40" y2="292.0" stroke="#c98a34" stroke-width="1.1"/>
<line x1="163.60" y1="336.0" x2="166.40" y2="336.0" stroke="#c98a34" stroke-width="1.1"/>
<line x1="187.40" y1="305.0" x2="190.20" y2="305.0" stroke="#c98a34" stroke-width="1.1"/>
<line x1="187.40" y1="335.0" x2="190.20" y2="335.0" stroke="#c98a34" stroke-width="1.1"/>
<line x1="205.00" y1="305.0" x2="207.80" y2="305.0" stroke="#c98a34" stroke-width="1.1"/>
<line x1="205.00" y1="336.0" x2="207.80" y2="336.0" stroke="#c98a34" stroke-width="1.1"/>
<line x1="240.90" y1="301.5" x2="243.70" y2="301.5" stroke="#c98a34" stroke-width="1.1"/>
<line x1="240.90" y1="340.0" x2="243.70" y2="340.0" stroke="#c98a34" stroke-width="1.1"/>
<polyline points="71.30,337.50 93.40,325.20 111.30,331.40 165.00,328.10 188.80,326.50 206.40,331.90 242.30,329.20" fill="none" stroke="#5a5b62" stroke-width="1.15" stroke-linejoin="round"/>
<rect x="69.80" y="336.00" width="3.00" height="3.00" fill="#5a5b62"/>
<rect x="91.90" y="323.70" width="3.00" height="3.00" fill="#5a5b62"/>
<rect x="109.80" y="329.90" width="3.00" height="3.00" fill="#5a5b62"/>
<rect x="163.50" y="326.60" width="3.00" height="3.00" fill="#5a5b62"/>
<rect x="187.30" y="325.00" width="3.00" height="3.00" fill="#5a5b62"/>
<rect x="204.90" y="330.40" width="3.00" height="3.00" fill="#5a5b62"/>
<rect x="240.80" y="327.70" width="3.00" height="3.00" fill="#5a5b62"/>
<polyline points="71.30,348.60 93.40,339.10 111.30,313.80 165.00,312.40 188.80,310.40 206.40,316.50 242.30,323.10" fill="none" stroke="#284c75" stroke-width="1.15" stroke-linejoin="round"/>
<path d="M71.30,350.40 L73.10,347.10 L69.50,347.10Z" fill="#284c75"/>
<path d="M93.40,340.90 L95.20,337.60 L91.60,337.60Z" fill="#284c75"/>
<path d="M111.30,315.60 L113.10,312.30 L109.50,312.30Z" fill="#284c75"/>
<path d="M165.00,314.20 L166.80,310.90 L163.20,310.90Z" fill="#284c75"/>
<path d="M188.80,312.20 L190.60,308.90 L187.00,308.90Z" fill="#284c75"/>
<path d="M206.40,318.30 L208.20,315.00 L204.60,315.00Z" fill="#284c75"/>
<path d="M242.30,324.90 L244.10,321.60 L240.50,321.60Z" fill="#284c75"/>
<polyline points="71.30,349.60 93.40,343.70 111.30,325.80 165.00,316.20 188.80,324.50 206.40,325.00 242.30,328.50" fill="none" stroke="#c42e46" stroke-width="1.15" stroke-linejoin="round"/>
<path d="M71.30,347.80 L73.10,351.10 L69.50,351.10Z" fill="#c42e46"/>
<path d="M93.40,341.90 L95.20,345.20 L91.60,345.20Z" fill="#c42e46"/>
<path d="M111.30,324.00 L113.10,327.30 L109.50,327.30Z" fill="#c42e46"/>
<path d="M165.00,314.40 L166.80,317.70 L163.20,317.70Z" fill="#c42e46"/>
<path d="M188.80,322.70 L190.60,326.00 L187.00,326.00Z" fill="#c42e46"/>
<path d="M206.40,323.20 L208.20,326.50 L204.60,326.50Z" fill="#c42e46"/>
<path d="M242.30,326.70 L244.10,330.00 L240.50,330.00Z" fill="#c42e46"/>
<polyline points="71.30,328.30 93.40,325.20 111.30,327.00 165.00,318.10 188.80,324.50 206.40,324.20 242.30,317.70" fill="none" stroke="#f2ab45" stroke-width="1.15" stroke-linejoin="round"/>
<circle cx="71.30" cy="328.30" r="1.50" fill="#f2ab45"/>
<circle cx="93.40" cy="325.20" r="1.50" fill="#f2ab45"/>
<circle cx="111.30" cy="327.00" r="1.50" fill="#f2ab45"/>
<circle cx="165.00" cy="318.10" r="1.50" fill="#f2ab45"/>
<circle cx="188.80" cy="324.50" r="1.50" fill="#f2ab45"/>
<circle cx="206.40" cy="324.20" r="1.50" fill="#f2ab45"/>
<circle cx="242.30" cy="317.70" r="1.50" fill="#f2ab45"/>
<line x1="69.9" y1="233.8" x2="69.9" y2="357.4" stroke="#161a20" stroke-width="1.5"/>
<line x1="65.4" y1="356.7" x2="246.6" y2="356.7" stroke="#161a20" stroke-width="1.5"/>
<line x1="65.9" y1="238.2" x2="69.9" y2="238.2" stroke="#161a20" stroke-width="1.2"/>
<text x="61.900000000000006" y="241.6" font-size="9.8" text-anchor="end" font-weight="normal" fill="#231f20">30</text>
<line x1="65.9" y1="277.7" x2="69.9" y2="277.7" stroke="#161a20" stroke-width="1.2"/>
<text x="61.900000000000006" y="281.09999999999997" font-size="9.8" text-anchor="end" font-weight="normal" fill="#231f20">20</text>
<line x1="65.9" y1="317.2" x2="69.9" y2="317.2" stroke="#161a20" stroke-width="1.2"/>
<text x="61.900000000000006" y="320.59999999999997" font-size="9.8" text-anchor="end" font-weight="normal" fill="#231f20">10</text>
<line x1="65.9" y1="356.7" x2="69.9" y2="356.7" stroke="#161a20" stroke-width="1.2"/>
<text x="61.900000000000006" y="360.09999999999997" font-size="9.8" text-anchor="end" font-weight="normal" fill="#231f20">0</text>
<line x1="71.30" y1="356.7" x2="71.30" y2="361.00" stroke="#161a20" stroke-width="1.2"/>
<text x="71.3" y="374.2" font-size="9.8" text-anchor="middle" font-weight="normal" fill="#231f20">1</text>
<line x1="93.40" y1="356.7" x2="93.40" y2="361.00" stroke="#161a20" stroke-width="1.2"/>
<text x="93.4" y="374.2" font-size="9.8" text-anchor="middle" font-weight="normal" fill="#231f20">4</text>
<line x1="111.30" y1="356.7" x2="111.30" y2="361.00" stroke="#161a20" stroke-width="1.2"/>
<text x="111.3" y="374.2" font-size="9.8" text-anchor="middle" font-weight="normal" fill="#231f20">7</text>
<line x1="165.00" y1="356.7" x2="165.00" y2="361.00" stroke="#161a20" stroke-width="1.2"/>
<text x="165.0" y="374.2" font-size="9.8" text-anchor="middle" font-weight="normal" fill="#231f20">16</text>
<line x1="188.80" y1="356.7" x2="188.80" y2="361.00" stroke="#161a20" stroke-width="1.2"/>
<text x="188.8" y="374.2" font-size="9.8" text-anchor="middle" font-weight="normal" fill="#231f20">20</text>
<line x1="206.40" y1="356.7" x2="206.40" y2="361.00" stroke="#161a20" stroke-width="1.2"/>
<text x="206.4" y="374.2" font-size="9.8" text-anchor="middle" font-weight="normal" fill="#231f20">23</text>
<line x1="242.30" y1="356.7" x2="242.30" y2="361.00" stroke="#161a20" stroke-width="1.2"/>
<text x="242.3" y="374.2" font-size="9.8" text-anchor="middle" font-weight="normal" fill="#231f20">29</text>
<text x="8.2" y="220.6" font-size="14.6" text-anchor="start" font-weight="bold" fill="#000">C</text>
<text x="158.5" y="221.2" font-size="11.3" text-anchor="middle" font-weight="normal" fill="#231f20">Conventional DCs</text>
<text x="82" y="235.3" font-size="9.5" text-anchor="middle" font-weight="normal" fill="#231f20">Ibr</text>
<text x="130" y="235.3" font-size="9.5" text-anchor="middle" font-weight="normal" fill="#231f20">I+V</text>
<text x="207.3" y="235.3" font-size="9.0" text-anchor="middle" font-weight="normal" fill="#231f20">Randomized Tx</text>
<text x="158.5" y="389.9" font-size="10.6" text-anchor="middle" font-weight="normal" fill="#231f20" textLength="58.6" lengthAdjust="spacingAndGlyphs" stroke="#231f20" stroke-width="0.3">Cycle (pre-dose)</text>
<text transform="translate(43.5,296) rotate(-90)" x="0" y="0" font-size="9.6" text-anchor="middle" fill="#231f20" textLength="90.5" lengthAdjust="spacingAndGlyphs" stroke="#231f20" stroke-width="0.25">Absolute counts (cells/µL)</text>
<rect x="333.1" y="237.6" width="26.90" height="119.10" fill="#fceac6"/>
<rect x="360.0" y="237.6" width="70.30" height="119.10" fill="#d9e9f7"/>
<rect x="333.1" y="267.1" width="177.00" height="35.70" fill="#e0e0e2"/>
<line x1="333.1" y1="302.3" x2="510.1" y2="302.3" stroke="#cdcdd1" stroke-width="1"/>
<line x1="333.1" y1="267.6" x2="510.1" y2="267.6" stroke="#cdcdd1" stroke-width="1"/>
<line x1="334.1" y1="290.4" x2="510.1" y2="290.4" stroke="#a4a4ac" stroke-width="1.8" stroke-dasharray="1.7 1.85"/>
<line x1="374.50" y1="320.00" x2="374.50" y2="340.00" stroke="#435b82" stroke-width="1.6"/>
<line x1="452.00" y1="268.20" x2="452.00" y2="320.00" stroke="#435b82" stroke-width="1.6"/>
<line x1="505.50" y1="300.00" x2="505.50" y2="338.70" stroke="#435b82" stroke-width="1.6"/>
<line x1="334.50" y1="337.50" x2="334.50" y2="359.10" stroke="#435b82" stroke-width="1.6"/>
<line x1="356.60" y1="324.20" x2="356.60" y2="345.80" stroke="#435b82" stroke-width="1.6"/>
<line x1="428.20" y1="301.00" x2="428.20" y2="322.60" stroke="#435b82" stroke-width="1.6"/>
<line x1="469.60" y1="307.90" x2="469.60" y2="329.50" stroke="#435b82" stroke-width="1.6"/>
<line x1="356.60" y1="330.00" x2="356.60" y2="351.50" stroke="#cc4058" stroke-width="1.6"/>
<line x1="374.50" y1="278.00" x2="374.50" y2="330.00" stroke="#cc4058" stroke-width="1.6"/>
<line x1="428.20" y1="252.80" x2="428.20" y2="320.00" stroke="#cc4058" stroke-width="1.6"/>
<line x1="469.60" y1="261.80" x2="469.60" y2="334.90" stroke="#cc4058" stroke-width="1.6"/>
<line x1="334.50" y1="340.60" x2="334.50" y2="362.20" stroke="#cc4058" stroke-width="1.6"/>
<line x1="452.00" y1="288.90" x2="452.00" y2="310.50" stroke="#cc4058" stroke-width="1.6"/>
<line x1="505.50" y1="292.60" x2="505.50" y2="314.20" stroke="#cc4058" stroke-width="1.6"/>
<line x1="334.50" y1="335.00" x2="334.50" y2="356.00" stroke="#6c6e77" stroke-width="1.6"/>
<line x1="356.60" y1="259.30" x2="356.60" y2="345.00" stroke="#6c6e77" stroke-width="1.6"/>
<line x1="374.50" y1="308.30" x2="374.50" y2="329.90" stroke="#6c6e77" stroke-width="1.6"/>
<line x1="428.20" y1="311.10" x2="428.20" y2="332.70" stroke="#6c6e77" stroke-width="1.6"/>
<line x1="452.00" y1="295.80" x2="452.00" y2="317.40" stroke="#6c6e77" stroke-width="1.6"/>
<line x1="469.60" y1="310.20" x2="469.60" y2="331.80" stroke="#6c6e77" stroke-width="1.6"/>
<line x1="505.50" y1="311.50" x2="505.50" y2="333.10" stroke="#6c6e77" stroke-width="1.6"/>
<line x1="334.50" y1="327.50" x2="334.50" y2="352.00" stroke="#f2b767" stroke-width="1.6"/>
<line x1="356.60" y1="320.00" x2="356.60" y2="348.00" stroke="#f2b767" stroke-width="1.6"/>
<line x1="374.50" y1="300.00" x2="374.50" y2="343.90" stroke="#f2b767" stroke-width="1.6"/>
<line x1="428.20" y1="285.00" x2="428.20" y2="340.70" stroke="#f2b767" stroke-width="1.6"/>
<line x1="452.00" y1="290.00" x2="452.00" y2="330.00" stroke="#f2b767" stroke-width="1.6"/>
<line x1="469.60" y1="280.00" x2="469.60" y2="330.00" stroke="#f2b767" stroke-width="1.6"/>
<line x1="505.50" y1="272.50" x2="505.50" y2="320.00" stroke="#f2b767" stroke-width="1.6"/>
<line x1="373.10" y1="320.0" x2="375.90" y2="320.0" stroke="#24324c" stroke-width="1.1"/>
<line x1="373.10" y1="340.0" x2="375.90" y2="340.0" stroke="#24324c" stroke-width="1.1"/>
<line x1="450.60" y1="268.2" x2="453.40" y2="268.2" stroke="#24324c" stroke-width="1.1"/>
<line x1="450.60" y1="320.0" x2="453.40" y2="320.0" stroke="#24324c" stroke-width="1.1"/>
<line x1="504.10" y1="300.0" x2="506.90" y2="300.0" stroke="#24324c" stroke-width="1.1"/>
<line x1="504.10" y1="338.7" x2="506.90" y2="338.7" stroke="#24324c" stroke-width="1.1"/>
<line x1="333.10" y1="337.5" x2="335.90" y2="337.5" stroke="#24324c" stroke-width="1.1"/>
<line x1="333.10" y1="359.1" x2="335.90" y2="359.1" stroke="#24324c" stroke-width="1.1"/>
<line x1="355.20" y1="324.2" x2="358.00" y2="324.2" stroke="#24324c" stroke-width="1.1"/>
<line x1="355.20" y1="345.8" x2="358.00" y2="345.8" stroke="#24324c" stroke-width="1.1"/>
<line x1="426.80" y1="301.0" x2="429.60" y2="301.0" stroke="#24324c" stroke-width="1.1"/>
<line x1="426.80" y1="322.6" x2="429.60" y2="322.6" stroke="#24324c" stroke-width="1.1"/>
<line x1="468.20" y1="307.9" x2="471.00" y2="307.9" stroke="#24324c" stroke-width="1.1"/>
<line x1="468.20" y1="329.5" x2="471.00" y2="329.5" stroke="#24324c" stroke-width="1.1"/>
<line x1="355.20" y1="330.0" x2="358.00" y2="330.0" stroke="#9e2038" stroke-width="1.1"/>
<line x1="355.20" y1="351.5" x2="358.00" y2="351.5" stroke="#9e2038" stroke-width="1.1"/>
<line x1="373.10" y1="278.0" x2="375.90" y2="278.0" stroke="#9e2038" stroke-width="1.1"/>
<line x1="373.10" y1="330.0" x2="375.90" y2="330.0" stroke="#9e2038" stroke-width="1.1"/>
<line x1="426.80" y1="252.8" x2="429.60" y2="252.8" stroke="#9e2038" stroke-width="1.1"/>
<line x1="426.80" y1="320.0" x2="429.60" y2="320.0" stroke="#9e2038" stroke-width="1.1"/>
<line x1="468.20" y1="261.8" x2="471.00" y2="261.8" stroke="#9e2038" stroke-width="1.1"/>
<line x1="468.20" y1="334.9" x2="471.00" y2="334.9" stroke="#9e2038" stroke-width="1.1"/>
<line x1="333.10" y1="340.6" x2="335.90" y2="340.6" stroke="#9e2038" stroke-width="1.1"/>
<line x1="333.10" y1="362.2" x2="335.90" y2="362.2" stroke="#9e2038" stroke-width="1.1"/>
<line x1="450.60" y1="288.9" x2="453.40" y2="288.9" stroke="#9e2038" stroke-width="1.1"/>
<line x1="450.60" y1="310.5" x2="453.40" y2="310.5" stroke="#9e2038" stroke-width="1.1"/>
<line x1="504.10" y1="292.6" x2="506.90" y2="292.6" stroke="#9e2038" stroke-width="1.1"/>
<line x1="504.10" y1="314.2" x2="506.90" y2="314.2" stroke="#9e2038" stroke-width="1.1"/>
<line x1="333.10" y1="335.0" x2="335.90" y2="335.0" stroke="#34363e" stroke-width="1.1"/>
<line x1="333.10" y1="356.0" x2="335.90" y2="356.0" stroke="#34363e" stroke-width="1.1"/>
<line x1="355.20" y1="259.3" x2="358.00" y2="259.3" stroke="#34363e" stroke-width="1.1"/>
<line x1="355.20" y1="345.0" x2="358.00" y2="345.0" stroke="#34363e" stroke-width="1.1"/>
<line x1="373.10" y1="308.3" x2="375.90" y2="308.3" stroke="#34363e" stroke-width="1.1"/>
<line x1="373.10" y1="329.9" x2="375.90" y2="329.9" stroke="#34363e" stroke-width="1.1"/>
<line x1="426.80" y1="311.1" x2="429.60" y2="311.1" stroke="#34363e" stroke-width="1.1"/>
<line x1="426.80" y1="332.7" x2="429.60" y2="332.7" stroke="#34363e" stroke-width="1.1"/>
<line x1="450.60" y1="295.8" x2="453.40" y2="295.8" stroke="#34363e" stroke-width="1.1"/>
<line x1="450.60" y1="317.4" x2="453.40" y2="317.4" stroke="#34363e" stroke-width="1.1"/>
<line x1="468.20" y1="310.2" x2="471.00" y2="310.2" stroke="#34363e" stroke-width="1.1"/>
<line x1="468.20" y1="331.8" x2="471.00" y2="331.8" stroke="#34363e" stroke-width="1.1"/>
<line x1="504.10" y1="311.5" x2="506.90" y2="311.5" stroke="#34363e" stroke-width="1.1"/>
<line x1="504.10" y1="333.1" x2="506.90" y2="333.1" stroke="#34363e" stroke-width="1.1"/>
<line x1="333.10" y1="327.5" x2="335.90" y2="327.5" stroke="#c98a34" stroke-width="1.1"/>
<line x1="333.10" y1="352.0" x2="335.90" y2="352.0" stroke="#c98a34" stroke-width="1.1"/>
<line x1="355.20" y1="320.0" x2="358.00" y2="320.0" stroke="#c98a34" stroke-width="1.1"/>
<line x1="355.20" y1="348.0" x2="358.00" y2="348.0" stroke="#c98a34" stroke-width="1.1"/>
<line x1="373.10" y1="300.0" x2="375.90" y2="300.0" stroke="#c98a34" stroke-width="1.1"/>
<line x1="373.10" y1="343.9" x2="375.90" y2="343.9" stroke="#c98a34" stroke-width="1.1"/>
<line x1="426.80" y1="285.0" x2="429.60" y2="285.0" stroke="#c98a34" stroke-width="1.1"/>
<line x1="426.80" y1="340.7" x2="429.60" y2="340.7" stroke="#c98a34" stroke-width="1.1"/>
<line x1="450.60" y1="290.0" x2="453.40" y2="290.0" stroke="#c98a34" stroke-width="1.1"/>
<line x1="450.60" y1="330.0" x2="453.40" y2="330.0" stroke="#c98a34" stroke-width="1.1"/>
<line x1="468.20" y1="280.0" x2="471.00" y2="280.0" stroke="#c98a34" stroke-width="1.1"/>
<line x1="468.20" y1="330.0" x2="471.00" y2="330.0" stroke="#c98a34" stroke-width="1.1"/>
<line x1="504.10" y1="272.5" x2="506.90" y2="272.5" stroke="#c98a34" stroke-width="1.1"/>
<line x1="504.10" y1="320.0" x2="506.90" y2="320.0" stroke="#c98a34" stroke-width="1.1"/>
<polyline points="334.50,339.70 356.60,320.30 374.50,320.30 428.20,323.10 452.00,307.80 469.60,322.20 505.50,323.50" fill="none" stroke="#5a5b62" stroke-width="1.15" stroke-linejoin="round"/>
<rect x="333.00" y="338.20" width="3.00" height="3.00" fill="#5a5b62"/>
<rect x="355.10" y="318.80" width="3.00" height="3.00" fill="#5a5b62"/>
<rect x="373.00" y="318.80" width="3.00" height="3.00" fill="#5a5b62"/>
<rect x="426.70" y="321.60" width="3.00" height="3.00" fill="#5a5b62"/>
<rect x="450.50" y="306.30" width="3.00" height="3.00" fill="#5a5b62"/>
<rect x="468.10" y="320.70" width="3.00" height="3.00" fill="#5a5b62"/>
<rect x="504.00" y="322.00" width="3.00" height="3.00" fill="#5a5b62"/>
<polyline points="334.50,349.50 356.60,336.20 374.50,336.00 428.20,313.00 452.00,298.80 469.60,319.90 505.50,316.90" fill="none" stroke="#284c75" stroke-width="1.15" stroke-linejoin="round"/>
<path d="M334.50,351.30 L336.30,348.00 L332.70,348.00Z" fill="#284c75"/>
<path d="M356.60,338.00 L358.40,334.70 L354.80,334.70Z" fill="#284c75"/>
<path d="M374.50,337.80 L376.30,334.50 L372.70,334.50Z" fill="#284c75"/>
<path d="M428.20,314.80 L430.00,311.50 L426.40,311.50Z" fill="#284c75"/>
<path d="M452.00,300.60 L453.80,297.30 L450.20,297.30Z" fill="#284c75"/>
<path d="M469.60,321.70 L471.40,318.40 L467.80,318.40Z" fill="#284c75"/>
<path d="M505.50,318.70 L507.30,315.40 L503.70,315.40Z" fill="#284c75"/>
<polyline points="334.50,352.60 356.60,341.30 374.50,323.00 428.20,304.60 452.00,300.90 469.60,322.50 505.50,304.60" fill="none" stroke="#c42e46" stroke-width="1.15" stroke-linejoin="round"/>
<path d="M334.50,350.80 L336.30,354.10 L332.70,354.10Z" fill="#c42e46"/>
<path d="M356.60,339.50 L358.40,342.80 L354.80,342.80Z" fill="#c42e46"/>
<path d="M374.50,321.20 L376.30,324.50 L372.70,324.50Z" fill="#c42e46"/>
<path d="M428.20,302.80 L430.00,306.10 L426.40,306.10Z" fill="#c42e46"/>
<path d="M452.00,299.10 L453.80,302.40 L450.20,302.40Z" fill="#c42e46"/>
<path d="M469.60,320.70 L471.40,324.00 L467.80,324.00Z" fill="#c42e46"/>
<path d="M505.50,302.80 L507.30,306.10 L503.70,306.10Z" fill="#c42e46"/>
<polyline points="334.50,341.40 356.60,334.60 374.50,325.70 428.20,321.00 452.00,315.20 469.60,315.70 505.50,294.90" fill="none" stroke="#f2ab45" stroke-width="1.15" stroke-linejoin="round"/>
<circle cx="334.50" cy="341.40" r="1.50" fill="#f2ab45"/>
<circle cx="356.60" cy="334.60" r="1.50" fill="#f2ab45"/>
<circle cx="374.50" cy="325.70" r="1.50" fill="#f2ab45"/>
<circle cx="428.20" cy="321.00" r="1.50" fill="#f2ab45"/>
<circle cx="452.00" cy="315.20" r="1.50" fill="#f2ab45"/>
<circle cx="469.60" cy="315.70" r="1.50" fill="#f2ab45"/>
<circle cx="505.50" cy="294.90" r="1.50" fill="#f2ab45"/>
<line x1="333.1" y1="233.1" x2="333.1" y2="357.4" stroke="#161a20" stroke-width="1.5"/>
<line x1="328.6" y1="356.7" x2="510.8" y2="356.7" stroke="#161a20" stroke-width="1.5"/>
<line x1="329.1" y1="237.5" x2="333.1" y2="237.5" stroke="#161a20" stroke-width="1.2"/>
<text x="325.1" y="240.9" font-size="9.8" text-anchor="end" font-weight="normal" fill="#231f20">20</text>
<line x1="329.1" y1="267.1" x2="333.1" y2="267.1" stroke="#161a20" stroke-width="1.2"/>
<text x="325.1" y="270.5" font-size="9.8" text-anchor="end" font-weight="normal" fill="#231f20">15</text>
<line x1="329.1" y1="296.7" x2="333.1" y2="296.7" stroke="#161a20" stroke-width="1.2"/>
<text x="325.1" y="300.09999999999997" font-size="9.8" text-anchor="end" font-weight="normal" fill="#231f20">10</text>
<line x1="329.1" y1="326.4" x2="333.1" y2="326.4" stroke="#161a20" stroke-width="1.2"/>
<text x="325.1" y="329.79999999999995" font-size="9.8" text-anchor="end" font-weight="normal" fill="#231f20">5</text>
<line x1="329.1" y1="356.7" x2="333.1" y2="356.7" stroke="#161a20" stroke-width="1.2"/>
<text x="325.1" y="360.09999999999997" font-size="9.8" text-anchor="end" font-weight="normal" fill="#231f20">0</text>
<line x1="334.50" y1="356.7" x2="334.50" y2="361.00" stroke="#161a20" stroke-width="1.2"/>
<text x="334.5" y="374.2" font-size="9.8" text-anchor="middle" font-weight="normal" fill="#231f20">1</text>
<line x1="356.60" y1="356.7" x2="356.60" y2="361.00" stroke="#161a20" stroke-width="1.2"/>
<text x="356.6" y="374.2" font-size="9.8" text-anchor="middle" font-weight="normal" fill="#231f20">4</text>
<line x1="374.50" y1="356.7" x2="374.50" y2="361.00" stroke="#161a20" stroke-width="1.2"/>
<text x="374.5" y="374.2" font-size="9.8" text-anchor="middle" font-weight="normal" fill="#231f20">7</text>
<line x1="428.20" y1="356.7" x2="428.20" y2="361.00" stroke="#161a20" stroke-width="1.2"/>
<text x="428.2" y="374.2" font-size="9.8" text-anchor="middle" font-weight="normal" fill="#231f20">16</text>
<line x1="452.00" y1="356.7" x2="452.00" y2="361.00" stroke="#161a20" stroke-width="1.2"/>
<text x="452.0" y="374.2" font-size="9.8" text-anchor="middle" font-weight="normal" fill="#231f20">20</text>
<line x1="469.60" y1="356.7" x2="469.60" y2="361.00" stroke="#161a20" stroke-width="1.2"/>
<text x="469.6" y="374.2" font-size="9.8" text-anchor="middle" font-weight="normal" fill="#231f20">23</text>
<line x1="505.50" y1="356.7" x2="505.50" y2="361.00" stroke="#161a20" stroke-width="1.2"/>
<text x="505.5" y="374.2" font-size="9.8" text-anchor="middle" font-weight="normal" fill="#231f20">29</text>
<text x="279.8" y="220.6" font-size="14.6" text-anchor="start" font-weight="bold" fill="#000">D</text>
<text x="421.8" y="221.2" font-size="11.3" text-anchor="middle" font-weight="normal" fill="#231f20">Plasmacytoid DCs</text>
<text x="346" y="235.3" font-size="9.5" text-anchor="middle" font-weight="normal" fill="#231f20">Ibr</text>
<text x="394.6" y="235.3" font-size="9.5" text-anchor="middle" font-weight="normal" fill="#231f20">I+V</text>
<text x="472.2" y="235.3" font-size="9.0" text-anchor="middle" font-weight="normal" fill="#231f20">Randomized Tx</text>
<text x="421.8" y="389.9" font-size="10.6" text-anchor="middle" font-weight="normal" fill="#231f20" textLength="58.6" lengthAdjust="spacingAndGlyphs" stroke="#231f20" stroke-width="0.3">Cycle (pre-dose)</text>
<text transform="translate(309.2,296) rotate(-90)" x="0" y="0" font-size="9.6" text-anchor="middle" fill="#231f20" textLength="90.5" lengthAdjust="spacingAndGlyphs" stroke="#231f20" stroke-width="0.25">Absolute counts (cells/µL)</text>
<rect x="170.2" y="412.4" width="14.4" height="7" fill="#d9d9dd"/>
<line x1="171.40" y1="413" x2="171.40" y2="418.8" stroke="#c2c2c8" stroke-width="1.1"/>
<line x1="173.80" y1="413" x2="173.80" y2="418.8" stroke="#c2c2c8" stroke-width="1.1"/>
<line x1="176.20" y1="413" x2="176.20" y2="418.8" stroke="#c2c2c8" stroke-width="1.1"/>
<line x1="178.60" y1="413" x2="178.60" y2="418.8" stroke="#c2c2c8" stroke-width="1.1"/>
<line x1="181.00" y1="413" x2="181.00" y2="418.8" stroke="#c2c2c8" stroke-width="1.1"/>
<line x1="183.40" y1="413" x2="183.40" y2="418.8" stroke="#c2c2c8" stroke-width="1.1"/>
<text x="188.6" y="419.70000000000005" font-size="9.2" text-anchor="start" font-weight="normal" fill="#231f20" textLength="160.8" lengthAdjust="spacingAndGlyphs">Healthy Donors (<tspan font-style="italic">n</tspan> = 20): median and IQR</text>
<line x1="171.3" y1="430.7" x2="183.7" y2="430.7" stroke="#3b3d57" stroke-width="1.1"/>
<rect x="176.00" y="429.20" width="3.00" height="3.00" fill="#3b3d57"/>
<text x="188.6" y="433.8" font-size="9.2" text-anchor="start" font-weight="normal" fill="#231f20" textLength="137.2" lengthAdjust="spacingAndGlyphs">Confirmed uMRD; Placebo (<tspan font-style="italic">n</tspan> = 20)</text>
<line x1="171.3" y1="445.0" x2="183.7" y2="445.0" stroke="#e0a020" stroke-width="1.1"/>
<circle cx="177.50" cy="445.00" r="1.50" fill="#e0a020"/>
<text x="188.6" y="448.1" font-size="9.2" text-anchor="start" font-weight="normal" fill="#231f20" textLength="116.0" lengthAdjust="spacingAndGlyphs">Confirmed uMRD; Ibr (<tspan font-style="italic">n</tspan> = 20)</text>
<line x1="171.3" y1="459.3" x2="183.7" y2="459.3" stroke="#b8213d" stroke-width="1.1"/>
<path d="M177.50,457.50 L179.30,460.80 L175.70,460.80Z" fill="#b8213d"/>
<text x="188.6" y="462.40000000000003" font-size="9.2" text-anchor="start" font-weight="normal" fill="#231f20" textLength="132.6" lengthAdjust="spacingAndGlyphs">uMRD Not Confirmed; Ibr (<tspan font-style="italic">n</tspan> = 20)</text>
<line x1="171.3" y1="473.7" x2="183.7" y2="473.7" stroke="#1f3e6e" stroke-width="1.1"/>
<path d="M177.50,475.50 L179.30,472.20 L175.70,472.20Z" fill="#1f3e6e"/>
<text x="188.6" y="476.8" font-size="9.2" text-anchor="start" font-weight="normal" fill="#231f20" textLength="136.0" lengthAdjust="spacingAndGlyphs">uMRD Not Confirmed; I+V (<tspan font-style="italic">n</tspan> = 19)</text>
<rect x="0.5" y="0.5" width="519" height="487" fill="none" stroke="#3c3c3c" stroke-width="1"/>
</svg>
</body></html>
